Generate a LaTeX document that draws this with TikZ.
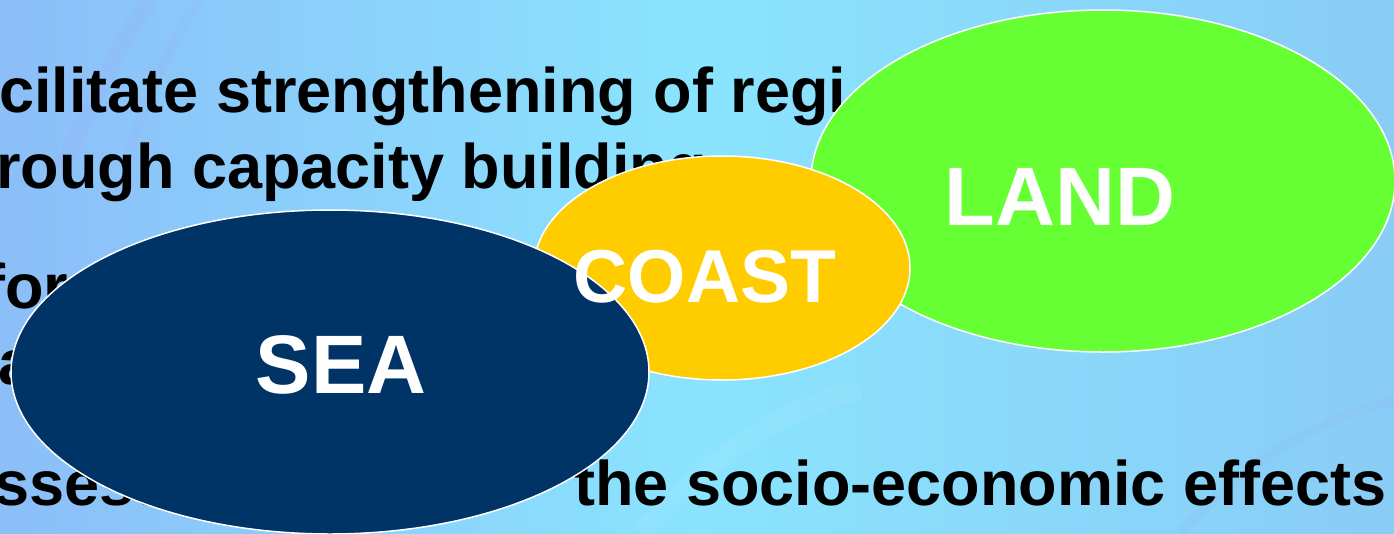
\documentclass[tikz,border=0pt]{standalone}
\usepackage{fontspec}
\setmainfont{Liberation Sans}
\usetikzlibrary{shapes.geometric}
\definecolor{seablue}{HTML}{003366}
\definecolor{coastgold}{HTML}{FFCC00}
\definecolor{landgreen}{HTML}{66FF33}
\definecolor{skyleft}{HTML}{8CBEF8}
\definecolor{skymid}{HTML}{8AE4FE}
\definecolor{skyright}{HTML}{89CCF6}
\definecolor{streak}{HTML}{98AAF6}
\tikzset{
  bodytext/.style={anchor=base west, inner sep=0pt, font=\fontsize{63}{70}\selectfont\bfseries},
  blob/.style={ellipse, draw=white, line width=1.5pt, inner sep=0pt},
  blobtext/.style={anchor=base, inner sep=0pt, text=white, font=\bfseries}
}
\begin{document}
\begin{tikzpicture}[x=1pt, y=-1pt]
\useasboundingbox (0,0) rectangle (1394,533);
\shade[left color=skyleft, right color=skyright, middle color=skymid] (0,0) rectangle (1394,533);
\draw[streak, line width=16pt, opacity=0.18] (60,170) .. controls (100,90) and (120,40) .. (150,0);
\draw[streak, line width=10pt, opacity=0.15] (130,150) .. controls (150,90) and (170,40) .. (200,0);
\draw[white, line width=20pt, opacity=0.06] (640,533) .. controls (720,450) and (780,410) .. (860,390);
\draw[streak, line width=10pt, opacity=0.12] (1180,533) .. controls (1260,450) and (1320,420) .. (1394,400);

\node[bodytext] (line1) at (-1,112) {cilitate strengthening of regi};
\node[bodytext] (line2) at (-4,188) {rough capacity building};
\node[bodytext] (line3) at (-16,308) {for};
\node[bodytext] (line4) at (-2,384) {a};
\node[bodytext] (line5a) at (-6,505) {ssess};
\node[bodytext] (line5b) at (574,505) {the socio-economic effects};

\node[blob, fill=landgreen, minimum width=584pt, minimum height=342pt] (land) at (1103,181) {};
\node[blob, fill=coastgold, minimum width=376pt, minimum height=224pt] (coast) at (722,268) {};
\node[blob, fill=seablue, minimum width=638pt, minimum height=324pt] (sea) at (330,372) {};

\node[blobtext, font=\fontsize{83}{88}\selectfont\bfseries] (landlabel) at (1060,225) {LAND};
\node[blobtext, font=\fontsize{75}{80}\selectfont\bfseries] (coastlabel) at (705,302) {COAST};
\node[blobtext, font=\fontsize{83}{88}\selectfont\bfseries] (sealabel) at (341,393) {SEA};
\end{tikzpicture}
\end{document}
